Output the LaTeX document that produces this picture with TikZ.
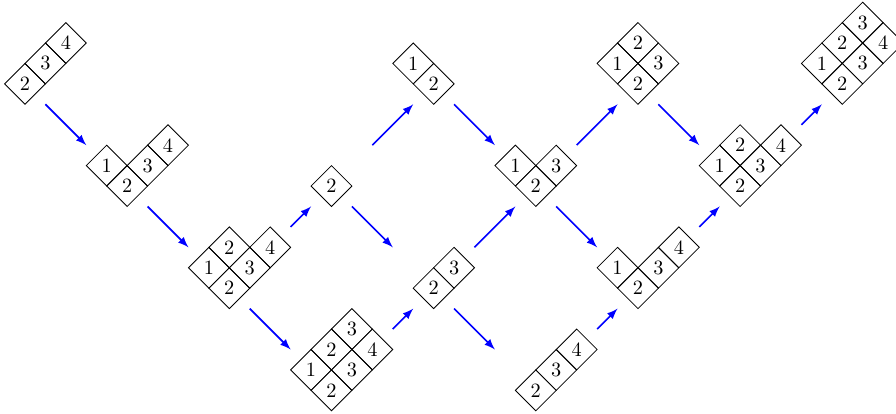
\documentclass[tikz,border=0pt]{standalone}
\usetikzlibrary{arrows}
\tikzset{
  cellline/.style={draw=black, line width=0.4pt, line join=miter},
  celllabel/.style={inner sep=0pt, font=\normalsize},
  flow/.style={draw=blue, thick, -latex},
}
\newcommand\ydiagram[2]{%
  \begin{scope}[shift={(#1)}]
    \foreach \a/\b in {#2}{%
      \pgfmathtruncatemacro\lab{2+\a-\b}%
      \draw[cellline] ({\a-\b-1},{\a+\b+1}) -- ++(1,-1) -- ++(1,1) -- ++(-1,1) -- cycle;
      \node[celllabel] (#1c\a\b) at ({\a-\b},{\a+\b+1}) {\lab};
    }
  \end{scope}%
}
\begin{document}
\begin{tikzpicture}[x=0.353553cm, y=0.353553cm]
\useasboundingbox (-1.224,-15.11) rectangle (42.63,5.105);
% bottom vertices of the diagrams on a grid of step 5
\coordinate (d1) at (0,0);
\coordinate (d2) at (5,-5);
\coordinate (d3) at (10,-10);
\coordinate (d4) at (15,-15);
\coordinate (d5) at (15,-5);
\coordinate (d6) at (20,-10);
\coordinate (d7) at (20,0);
\coordinate (d8) at (25,-5);
\coordinate (d9) at (30,0);
\coordinate (d10) at (30,-10);
\coordinate (d11) at (25,-15);
\coordinate (d12) at (35,-5);
\coordinate (d13) at (40,0);

\ydiagram{d1}{0/0,1/0,2/0}
\ydiagram{d2}{0/0,0/1,1/0,2/0}
\ydiagram{d3}{0/0,0/1,1/0,2/0,1/1}
\ydiagram{d4}{0/0,0/1,1/0,2/0,1/1,2/1}
\ydiagram{d5}{0/0}
\ydiagram{d6}{0/0,1/0}
\ydiagram{d7}{0/0,0/1}
\ydiagram{d8}{0/0,0/1,1/0}
\ydiagram{d9}{0/0,0/1,1/0,1/1}
\ydiagram{d10}{0/0,0/1,1/0,2/0}
\ydiagram{d11}{0/0,1/0,2/0}
\ydiagram{d12}{0/0,0/1,1/0,2/0,1/1}
\ydiagram{d13}{0/0,0/1,1/0,2/0,1/1,2/1}

% down-right arrows
\foreach \s/\t in {d1/d2, d2/d3, d3/d4, d5/d6, d7/d8, d6/d11, d8/d10, d9/d12}
  \draw[flow] ([shift={(1,0)}]\s) -- ([shift={(-2,3)}]\t);
% long up-right arrows
\foreach \s/\t in {d5/d7, d6/d8, d8/d9}
  \draw[flow] ([shift={(2,3)}]\s) -- ([shift={(-1,0)}]\t);
% short up-right arrows
\foreach \s/\t in {d3/d5, d4/d6, d11/d10, d10/d12, d12/d13}
  \draw[flow] ([shift={(3,4)}]\s) -- ([shift={(-1,0)}]\t);
\end{tikzpicture}
\end{document}
